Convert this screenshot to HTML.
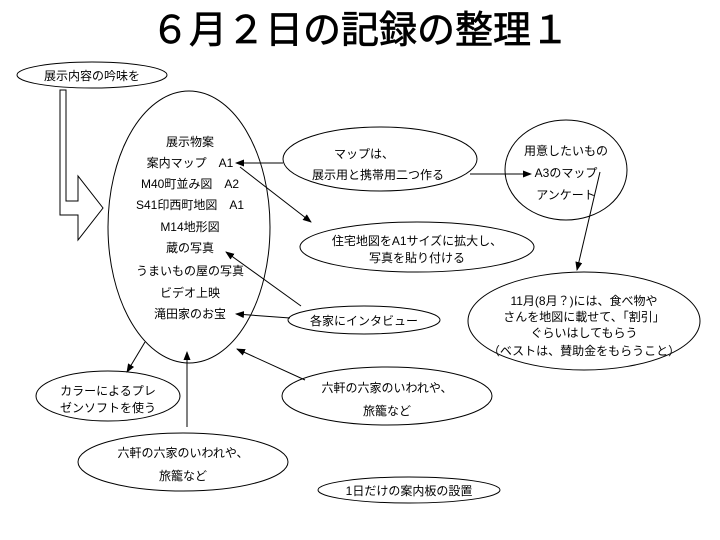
<!DOCTYPE html>
<html><head><meta charset="utf-8"><style>
body{margin:0;background:#fff}
svg{display:block}
text{font-family:"Liberation Sans","Noto Sans CJK JP",sans-serif;font-size:12px;fill:#000}
</style></head><body>
<svg width="720" height="540" viewBox="0 0 720 540" xmlns="http://www.w3.org/2000/svg">
<defs><marker id="a" markerWidth="9" markerHeight="7" refX="8" refY="3.5" orient="auto" markerUnits="userSpaceOnUse"><path d="M0,0L9,3.5L0,7z" fill="#000"/></marker></defs>
<g fill="none" stroke="#000" stroke-width="1">
<ellipse cx="92" cy="75" rx="75" ry="13"/>
<path d="M60,90H66V201H78V176L103,208L78,240V215H60Z"/>
<ellipse cx="189" cy="227" rx="81" ry="136"/>
<ellipse cx="380" cy="159" rx="97" ry="32"/>
<ellipse cx="566" cy="170" rx="61" ry="50"/>
<ellipse cx="417" cy="247" rx="117" ry="25"/>
<ellipse cx="584" cy="321" rx="116" ry="49"/>
<ellipse cx="364" cy="320" rx="76" ry="14"/>
<ellipse cx="108" cy="396" rx="72" ry="25"/>
<ellipse cx="387" cy="396" rx="105" ry="29"/>
<ellipse cx="183" cy="462" rx="105" ry="29"/>
<ellipse cx="409" cy="490" rx="91" ry="13"/>
<line x1="283" y1="163" x2="236" y2="163" marker-end="url(#a)"/>
<line x1="240" y1="167" x2="311" y2="222" marker-end="url(#a)"/>
<line x1="470" y1="174" x2="531" y2="174" marker-end="url(#a)"/>
<line x1="600" y1="172" x2="577" y2="270" marker-end="url(#a)"/>
<line x1="290" y1="318" x2="236" y2="314" marker-end="url(#a)"/>
<line x1="301" y1="306" x2="226" y2="252" marker-end="url(#a)"/>
<line x1="145" y1="342" x2="127" y2="372" marker-end="url(#a)"/>
<line x1="305" y1="380" x2="237" y2="349" marker-end="url(#a)"/>
<line x1="187" y1="427" x2="187" y2="352" marker-end="url(#a)"/>
</g>
<text x="360" y="43" text-anchor="middle" style="font-size:38px;stroke:#000;stroke-width:0.7">６月２日の記録の整理１</text>
<g text-anchor="middle">
<text x="92" y="80">展示内容の吟味を</text>
<text x="190" y="146">展示物案</text>
<text x="190" y="167">案内マップ　A1</text>
<text x="190" y="188">M40町並み図　A2</text>
<text x="190" y="209">S41印西町地図　A1</text>
<text x="190" y="231">M14地形図</text>
<text x="190" y="252">蔵の写真</text>
<text x="190" y="275">うまいもの屋の写真</text>
<text x="190" y="297">ビデオ上映</text>
<text x="190" y="318">滝田家のお宝</text>
<text x="364" y="158">マップは、</text>
<text x="378" y="179">展示用と携帯用二つ作る</text>
<text x="566" y="155">用意したいもの</text>
<text x="566" y="177">A3のマップ</text>
<text x="566" y="199">アンケート</text>
<text x="417" y="245">住宅地図をA1サイズに拡大し、</text>
<text x="417" y="262">写真を貼り付ける</text>
<text x="584" y="305">11月(8月？)には、食べ物や</text>
<text x="584" y="321">さんを地図に載せて、「割引」</text>
<text x="584" y="337">ぐらいはしてもらう</text>
<text x="584" y="355">（ベストは、賛助金をもらうこと）</text>
<text x="364" y="325">各家にインタビュー</text>
<text x="108" y="395">カラーによるプレ</text>
<text x="108" y="412">ゼンソフトを使う</text>
<text x="387" y="392">六軒の六家のいわれや、</text>
<text x="387" y="415">旅籠など</text>
<text x="183" y="457">六軒の六家のいわれや、</text>
<text x="183" y="480">旅籠など</text>
<text x="409" y="495">1日だけの案内板の設置</text>
</g>
</svg>
</body></html>
